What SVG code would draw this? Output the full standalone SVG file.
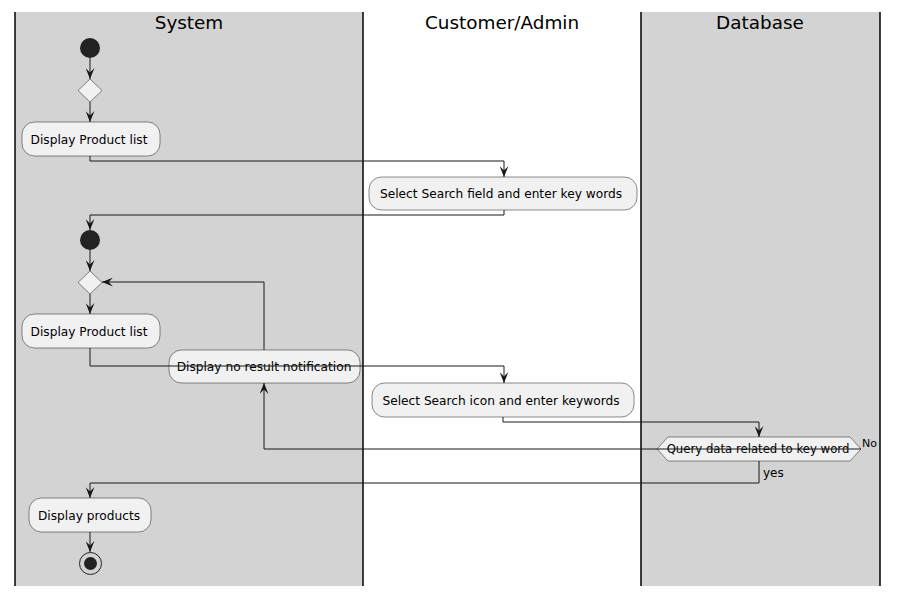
<svg xmlns="http://www.w3.org/2000/svg" width="899" height="597" viewBox="0 0 899 597">
<style>
.lane-grey{fill:#D3D3D3;stroke:none}
.lane-line{stroke:#000;stroke-width:1.5}
.title{font-family:"DejaVu Sans",sans-serif;font-size:18.4px;fill:#000;text-anchor:middle}
.box{fill:#F1F1F1;stroke:#181818;stroke-width:0.5}
.lbl{font-family:"DejaVu Sans",sans-serif;font-size:12.2px;fill:#000;text-anchor:middle}
.small{font-family:"DejaVu Sans",sans-serif;font-size:11px;fill:#000}
.qtext{font-family:"DejaVu Sans",sans-serif;font-size:11.7px;fill:#000;text-anchor:middle}
.yes{font-family:"DejaVu Sans",sans-serif;font-size:12px;fill:#000}
.conn{fill:none;stroke:#181818;stroke-width:1}
.dot{fill:#222222;stroke:none}
</style>
<defs>
<marker id="arr" viewBox="0 0 10 8" refX="10" refY="4" markerWidth="11" markerHeight="9" markerUnits="userSpaceOnUse" orient="auto">
<path d="M0,0 L10,4 L0,8 L4,4 Z" fill="#181818"/>
</marker>
</defs>
<rect width="899" height="597" fill="#FFFFFF"/>
<g id="lanes">
<rect class="lane-grey" x="15" y="12" width="348" height="574"/>
<rect class="lane-grey" x="641" y="12" width="239" height="574"/>
<line class="lane-line" x1="15" y1="12" x2="15" y2="586"/>
<line class="lane-line" x1="363" y1="12" x2="363" y2="586"/>
<line class="lane-line" x1="641" y1="12" x2="641" y2="586"/>
<line class="lane-line" x1="880" y1="12" x2="880" y2="586"/>
<text class="title" x="189" y="29">System</text>
<text class="title" x="502" y="29">Customer/Admin</text>
<text class="title" x="760" y="29">Database</text>
</g>
<g id="start1"><circle class="dot" cx="90" cy="48" r="10"/></g>
<g id="merge1"><polygon class="box" points="90,79 102,90.5 90,102 78,90.5"/></g>
<g id="list1"><rect class="box" x="22" y="122" width="138" height="34" rx="12.5"/><text class="lbl" x="89" y="144">Display Product list</text></g>
<g id="searchField"><rect class="box" x="369" y="177" width="268" height="33" rx="12.5"/><text class="lbl" x="501" y="198">Select Search field and enter key words</text></g>
<g id="start2"><circle class="dot" cx="90" cy="240" r="10"/></g>
<g id="merge2"><polygon class="box" points="90,271 102,282.5 90,294 78,282.5"/></g>
<g id="list2"><rect class="box" x="22" y="314" width="138" height="34" rx="12.5"/><text class="lbl" x="89" y="336">Display Product list</text></g>
<g id="noResult"><rect class="box" x="169" y="350" width="191" height="33" rx="12.5"/><text class="lbl" x="264" y="371">Display no result notification</text></g>
<g id="searchIcon"><rect class="box" x="372" y="383" width="262" height="34" rx="12.5"/><text class="lbl" x="501" y="405">Select Search icon and enter keywords</text></g>
<g id="query"><polygon class="box" points="657,449 668,437 850,437 861,449 850,461 668,461"/><text class="qtext" x="758" y="453">Query data related to key word</text></g>
<g id="products"><rect class="box" x="29" y="498" width="122" height="34" rx="12.5"/><text class="lbl" x="89" y="520">Display products</text></g>
<g id="end"><circle cx="90.5" cy="563.5" r="11" fill="none" stroke="#222222" stroke-width="1"/><circle class="dot" cx="90.5" cy="563.5" r="6.5"/></g>
<g id="connectors">
<path class="conn" marker-end="url(#arr)" d="M90,58 V79"/>
<path class="conn" marker-end="url(#arr)" d="M90,102 V122"/>
<path class="conn" marker-end="url(#arr)" d="M90,156 V161 H504 V177"/>
<path class="conn" marker-end="url(#arr)" d="M504,210 V215 H90 V230"/>
<path class="conn" marker-end="url(#arr)" d="M90,250 V271"/>
<path class="conn" marker-end="url(#arr)" d="M90,294 V314"/>
<path class="conn" marker-end="url(#arr)" d="M264,350 V282 H102"/>
<path class="conn" marker-end="url(#arr)" d="M90,348 V366 H504 V383"/>
<path class="conn" marker-end="url(#arr)" d="M503,417 V422 H759 V437"/>
<path class="conn" marker-end="url(#arr)" d="M861,449 H264 V383"/>
<path class="conn" marker-end="url(#arr)" d="M759,461 V483 H90 V498"/>
<path class="conn" marker-end="url(#arr)" d="M90,532 V552"/>
<text class="small" x="862" y="447">No</text>
<text class="yes" x="763" y="477">yes</text>
</g>
</svg>
